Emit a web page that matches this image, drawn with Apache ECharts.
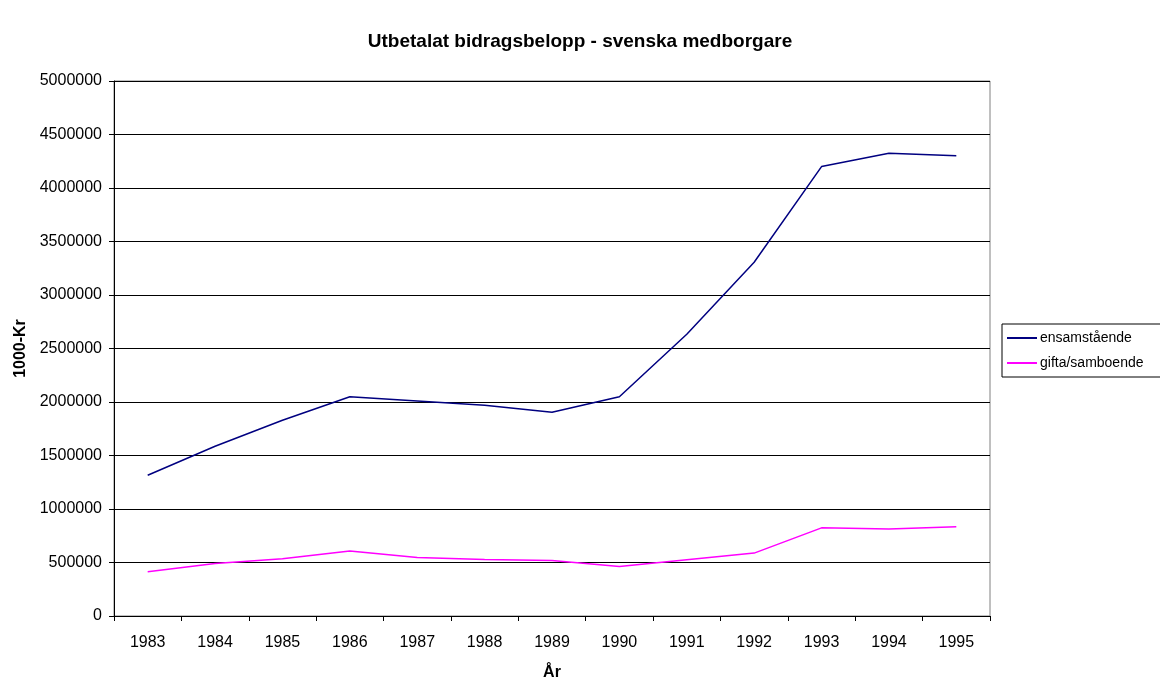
<!DOCTYPE html>
<html>
<head>
<meta charset="utf-8">
<script src="https://cdn.jsdelivr.net/npm/echarts@6/dist/echarts.min.js"></script>
<style>
html,body{margin:0;padding:0;background:#fff;}
#chart{width:1160px;height:686px;}
</style>
</head>
<body>
<div id="chart"></div>
<script>
const years = ['1983','1984','1985','1986','1987','1988','1989','1990','1991','1992','1993','1994','1995'];
const ensamstaende = [1315000,1586000,1830000,2049000,2009000,1969000,1904000,2049000,2633000,3306000,4200000,4324000,4302000];
const giftaSamboende = [414000,491000,534000,608000,546000,528000,518000,462000,525000,588000,824000,812000,833000];
const yTicks = [0,500000,1000000,1500000,2000000,2500000,3000000,3500000,4000000,4500000,5000000];

const FONT = 'Liberation Sans, Arial, sans-serif';
const chart = echarts.init(document.getElementById('chart'));
chart.setOption({
  animation: false,
  backgroundColor: '#ffffff',
  title: {
    text: 'Utbetalat bidragsbelopp - svenska medborgare',
    left: 'center', top: 27,
    textStyle: {fontFamily: FONT, fontSize: 19, fontWeight: 'bold', color: '#000'}
  },
  legend: {
    orient: 'vertical', left: 1002, top: 324,
    padding: [6, 40, 6, 5],
    itemGap: 9, itemWidth: 30, itemHeight: 2, icon: 'rect',
    borderColor: '#000', borderWidth: 1,
    textStyle: {fontFamily: FONT, fontSize: 14, lineHeight: 16, color: '#000', padding: [0,0,0,-2]},
    data: ['ensamstående','gifta/samboende']
  },
  grid: {
    left: 114, right: 170, top: 81, bottom: 65,
    show: true, borderColor: '#808080', borderWidth: 1, backgroundColor: '#fff'
  },
  xAxis: {
    type: 'category', data: years, boundaryGap: true,
    name: 'År', nameLocation: 'middle', nameGap: 49,
    nameTextStyle: {fontFamily: FONT, fontSize: 16, fontWeight: 'bold', color: '#000'},
    axisLine: {lineStyle: {color: '#000', width: 1}},
    axisTick: {show: true, length: 5, alignWithLabel: false, lineStyle: {color: '#000'}},
    axisLabel: {fontFamily: FONT, fontSize: 16, color: '#000', margin: 19},
    splitLine: {show: false}
  },
  yAxis: {
    type: 'value', min: 0, max: 5000000, interval: 500000,
    name: '1000-Kr', nameLocation: 'middle', nameGap: 81, nameRotate: 90,
    nameTextStyle: {fontFamily: FONT, fontSize: 16, fontWeight: 'bold', color: '#000'},
    axisLine: {show: true, lineStyle: {color: '#000', width: 1}},
    axisTick: {show: true, length: 5, lineStyle: {color: '#000'}},
    axisLabel: {fontFamily: FONT, fontSize: 16, color: '#000', margin: 12,
      formatter: v => yTicks.includes(v) ? String(v) : ''},
    splitLine: {show: true, lineStyle: {color: '#000', width: 1}}
  },
  series: [
    {name: 'ensamstående', type: 'line', data: ensamstaende, symbol: 'none',
     lineStyle: {color: '#000080', width: 1.5}, itemStyle: {color: '#000080'}},
    {name: 'gifta/samboende', type: 'line', data: giftaSamboende, symbol: 'none',
     lineStyle: {color: '#ff00ff', width: 1.5}, itemStyle: {color: '#ff00ff'}}
  ]
});
</script>
</body>
</html>
